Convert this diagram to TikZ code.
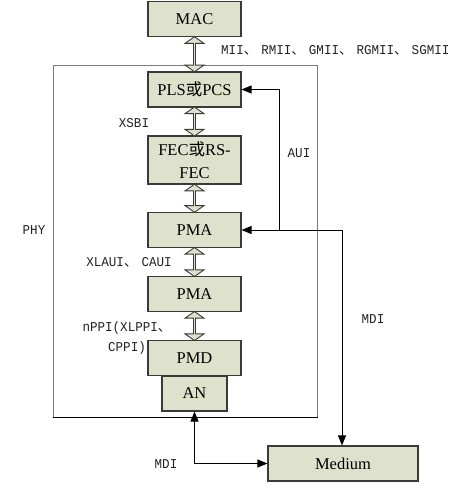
\documentclass[tikz,border=0pt]{standalone}
\usepackage{fontspec}
\setmainfont{Liberation Serif}
\newfontfamily\lblfont[FakeStretch=0.93]{Liberation Mono}
\newfontfamily\cjk{Noto Sans CJK SC}
\newcommand{\dun}{{\cjk 、}\kern4pt}
\usetikzlibrary{shapes.arrows,arrows.meta}
\definecolor{boxfill}{HTML}{DEE1CB}
\definecolor{boxline}{HTML}{3A3A3A}
\definecolor{framegray}{HTML}{7A7A7A}
\definecolor{labelc}{HTML}{222222}
\tikzset{
  blk/.style={draw=boxline, line width=1.1pt, fill=boxfill, rectangle, inner sep=0pt,
    minimum width=93pt, minimum height=35pt, align=center,
    font=\fontsize{16.5}{23}\selectfont},
  lbl/.style={text=labelc, inner sep=0pt, align=center,
    font=\lblfont\fontsize{13.5}{20}\selectfont},
  dbl/.style={double arrow, draw=boxline, line width=0.9pt, fill=boxfill, inner sep=0pt,
    minimum width=19pt, minimum height=#1, double arrow head extend=4pt,
    double arrow tip angle=110, rotate=90},
  conn/.style={draw=black, line width=0.9pt},
  tip/.style={-{Triangle[length=10pt,width=8pt]}},
  tips/.style={{Triangle[length=10pt,width=8pt]}-{Triangle[length=10pt,width=8pt]}}
}
\begin{document}
\begin{tikzpicture}[x=1pt,y=-1pt]
\useasboundingbox (0,0) rectangle (475,498);
% PHY frame
\node[draw=framegray, line width=1pt, minimum width=264pt, minimum height=352pt, inner sep=0pt] (phy) at (185,241) {};
\draw[black, line width=1pt] (phy.south west) -- (phy.south east);
% blocks
\node[blk] (mac) at (194.5,19) {MAC};
\node[blk] (pls) at (194.5,89.5) {PLS{\cjk 或}PCS};
\node[blk, minimum height=48pt] (fec) at (194.5,160) {FEC{\cjk 或}RS-\\FEC};
\node[blk] (pma1) at (194.5,230) {PMA};
\node[blk] (pma2) at (194.5,294) {PMA};
\node[blk] (pmd) at (194.5,358) {PMD};
\node[blk, minimum width=65pt] (an) at (194.5,393.5) {AN};
\node[blk, minimum width=150pt] (medium) at (343,463.5) {Medium};
% double arrows
\path (mac.south) -- (pls.north) node[midway, dbl=35pt] (a1) {};
\path (pls.south) -- (fec.north) node[midway, dbl=29pt] (a2) {};
\path (fec.south) -- (pma1.north) node[midway, dbl=28pt] (a3) {};
\path (pma1.south) -- (pma2.north) node[midway, dbl=29pt] (a4) {};
\path (pma2.south) -- (pmd.north) node[midway, dbl=29pt] (a5) {};
% connectors
\coordinate (auiB) at (279,230);
\coordinate (mdiA) at (342,230);
\draw[conn, tip] (auiB) |- (pls.east);
\draw[conn, tip] (mdiA) -- (pma1.east);
\draw[conn, tip] (mdiA) -- (mdiA |- medium.north);
\draw[conn, tips] (an.south) |- (medium.west);
% labels
\node[lbl, anchor=west] (lmii) at (221,50) {MII\dun RMII\dun GMII\dun RGMII\dun SGMII};
\node[lbl] (lxsbi) at (134,123) {XSBI};
\node[lbl] (laui) at (299,153) {AUI};
\node[lbl] (lphy) at (34,230) {PHY};
\node[lbl] (lxlaui) at (129,262) {XLAUI\dun CAUI};
\node[lbl] (lnppi) at (127,338) {nPPI(XLPPI{\cjk 、}\\CPPI)};
\node[lbl] (lmdi1) at (373,319) {MDI};
\node[lbl] (lmdi2) at (166,464) {MDI};
\end{tikzpicture}
\end{document}
